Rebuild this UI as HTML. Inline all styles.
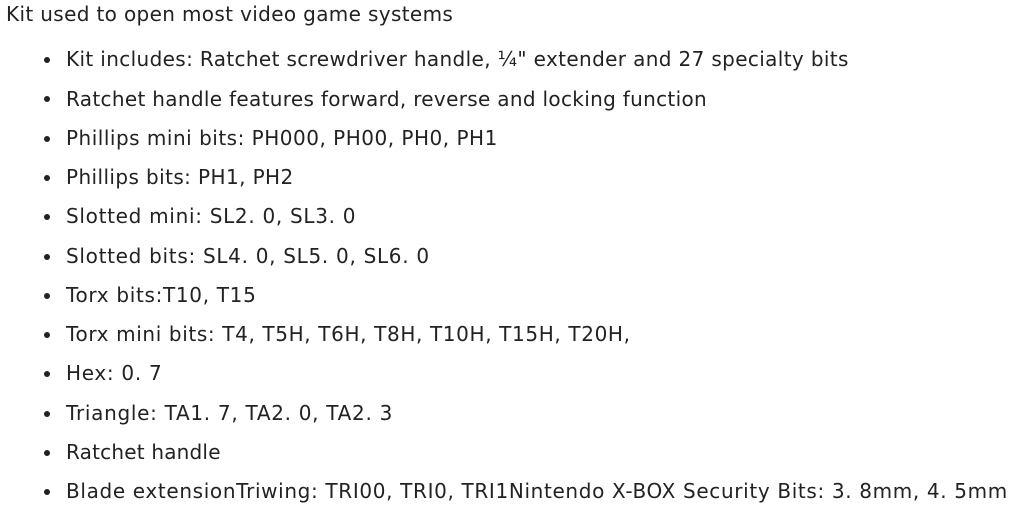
<!DOCTYPE html>
<html><head><meta charset="utf-8"><style>
body{margin:0;background:#fff;width:1012px;height:509px;overflow:hidden;font-family:"DejaVu Sans",Verdana,sans-serif;font-size:20px;letter-spacing:0.4px;color:#222;}
.l{position:absolute;white-space:nowrap;line-height:24px;}
.b{position:absolute;width:6px;height:6px;border-radius:50%;background:#222;left:44px;}
</style></head><body>
<div class="l" style="left:6px;top:2px;letter-spacing:0.35px">Kit used to open most video game systems</div>
<div class="b" style="top:57px"></div><div class="l" style="left:66px;top:47px;letter-spacing:0.36px">Kit includes: Ratchet screwdriver handle, ¼" extender and 27 specialty bits</div>
<div class="b" style="top:96px"></div><div class="l" style="left:66px;top:87px;letter-spacing:0.32px">Ratchet handle features forward, reverse and locking function</div>
<div class="b" style="top:136px"></div><div class="l" style="left:66px;top:126px;letter-spacing:0.5px">Phillips mini bits: PH000, PH00, PH0, PH1</div>
<div class="b" style="top:175px"></div><div class="l" style="left:66px;top:165px">Phillips bits: PH1, PH2</div>
<div class="b" style="top:214px"></div><div class="l" style="left:66px;top:204px;letter-spacing:0.7px">Slotted mini: SL2. 0, SL3. 0</div>
<div class="b" style="top:254px"></div><div class="l" style="left:66px;top:244px;letter-spacing:0.7px">Slotted bits: SL4. 0, SL5. 0, SL6. 0</div>
<div class="b" style="top:293px"></div><div class="l" style="left:66px;top:283px;letter-spacing:0.68px">Torx bits:T10, T15</div>
<div class="b" style="top:332px"></div><div class="l" style="left:66px;top:322px;letter-spacing:0.63px">Torx mini bits: T4, T5H, T6H, T8H, T10H, T15H, T20H,</div>
<div class="b" style="top:371px"></div><div class="l" style="left:66px;top:361px;letter-spacing:0.7px">Hex: 0. 7</div>
<div class="b" style="top:411px"></div><div class="l" style="left:66px;top:401px;letter-spacing:0.7px">Triangle: TA1. 7, TA2. 0, TA2. 3</div>
<div class="b" style="top:450px"></div><div class="l" style="left:66px;top:440px;letter-spacing:0.2px">Ratchet handle</div>
<div class="b" style="top:489px"></div><div class="l" style="left:66px;top:479px;letter-spacing:0.65px">Blade extensionTriwing: TRI00, TRI0, TRI1Nintendo X-BOX Security Bits: 3. 8mm, 4. 5mm</div>
</body></html>
